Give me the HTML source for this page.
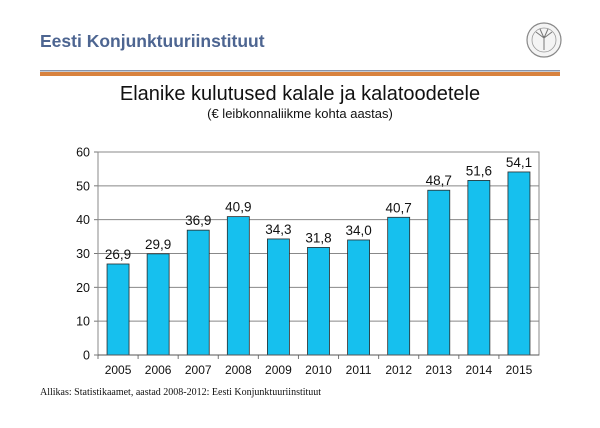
<!DOCTYPE html>
<html><head><meta charset="utf-8"><style>
body{margin:0;width:600px;height:423px;background:#fff;overflow:hidden;font-family:"Liberation Sans",sans-serif}
</style></head><body>
<svg width="600" height="423" xmlns="http://www.w3.org/2000/svg">
<text x="40" y="47" font-size="17.5" font-weight="bold" fill="#4d6591">Eesti Konjunktuuriinstituut</text>
<g><circle cx="544" cy="40" r="17" fill="#f4f4f4" stroke="#888" stroke-width="1.2"/><circle cx="544" cy="40" r="12" fill="none" stroke="#999" stroke-width="0.8"/><path d="M544 50 L544 36 M544 38 L536 32 M544 38 L552 32 M544 38 L540 29 M544 38 L548 29" stroke="#777" stroke-width="1"/></g>
<rect x="40" y="70" width="520" height="1.5" fill="#8894aa"/>
<rect x="40" y="72" width="520" height="4" fill="#d8823e"/>
<text x="300" y="100" font-size="20" text-anchor="middle" fill="#111">Elanike kulutused kalale ja kalatoodetele</text>
<text x="300" y="118" font-size="13" text-anchor="middle" fill="#111">(€ leibkonnaliikme kohta aastas)</text>
<g id="chart"></g>
<text x="40" y="395" font-size="10" font-family="Liberation Serif,serif" fill="#111">Allikas: Statistikaamet, aastad 2008-2012: Eesti Konjunktuuriinstituut</text>
</svg>
<script>
const categories=["2005","2006","2007","2008","2009","2010","2011","2012","2013","2014","2015"];
const values=[26.9,29.9,36.9,40.9,34.3,31.8,34.0,40.7,48.7,51.6,54.1];
const valueLabels=["26,9","29,9","36,9","40,9","34,3","31,8","34,0","40,7","48,7","51,6","54,1"];
const yTicks=[0,10,20,30,40,50,60];
const NS="http://www.w3.org/2000/svg";
const g=document.getElementById('chart');
const L=98,R=539,T=152,B=355,yMax=60;
const band=(R-L)/categories.length;
const x=i=>L+band*(i+0.5);
const y=v=>B-(v/yMax)*(B-T);
function mk(t,a){const e=document.createElementNS(NS,t);for(const k in a)e.setAttribute(k,a[k]);g.appendChild(e);return e;}
yTicks.forEach(t=>{
 const ln=mk('line',{x1:L,x2:R,y1:y(t),y2:y(t),stroke:'#888','stroke-width':1});
 
 
 const tk=mk('line',{x1:L-4,x2:L,y1:y(t),y2:y(t),stroke:'#777'});
 
 
 const tx=mk('text',{x:L-8,y:y(t)+4.5,'font-size':12.5,'text-anchor':'end',fill:'#111'});
 tx.textContent=t;
 
 
});
const frame=mk('rect',{x:L,y:T,width:R-L,height:B-T,fill:'none',stroke:'#888'});


categories.forEach((c,i)=>{
 const bw=22;
 const b=mk('rect',{x:x(i)-bw/2,y:y(values[i]),width:bw,height:B-y(values[i]),fill:'#16c0ee',stroke:'#2a2a2a','stroke-width':0.8});
 
 
 const vl=mk('text',{x:x(i),y:y(values[i])-5,'font-size':13.5,'text-anchor':'middle',fill:'#111'});
 vl.textContent=valueLabels[i];
 
 
 const xt=mk('line',{x1:L+band*i,x2:L+band*i,y1:B,y2:B+4,stroke:'#777'});
 
 
 const xl=mk('text',{x:x(i),y:B+19,'font-size':12,'text-anchor':'middle',fill:'#111'});
 xl.textContent=c;
 
 
});
const axis=mk('line',{x1:L,x2:R,y1:B,y2:B,stroke:'#555'});


</script>
</body></html>
